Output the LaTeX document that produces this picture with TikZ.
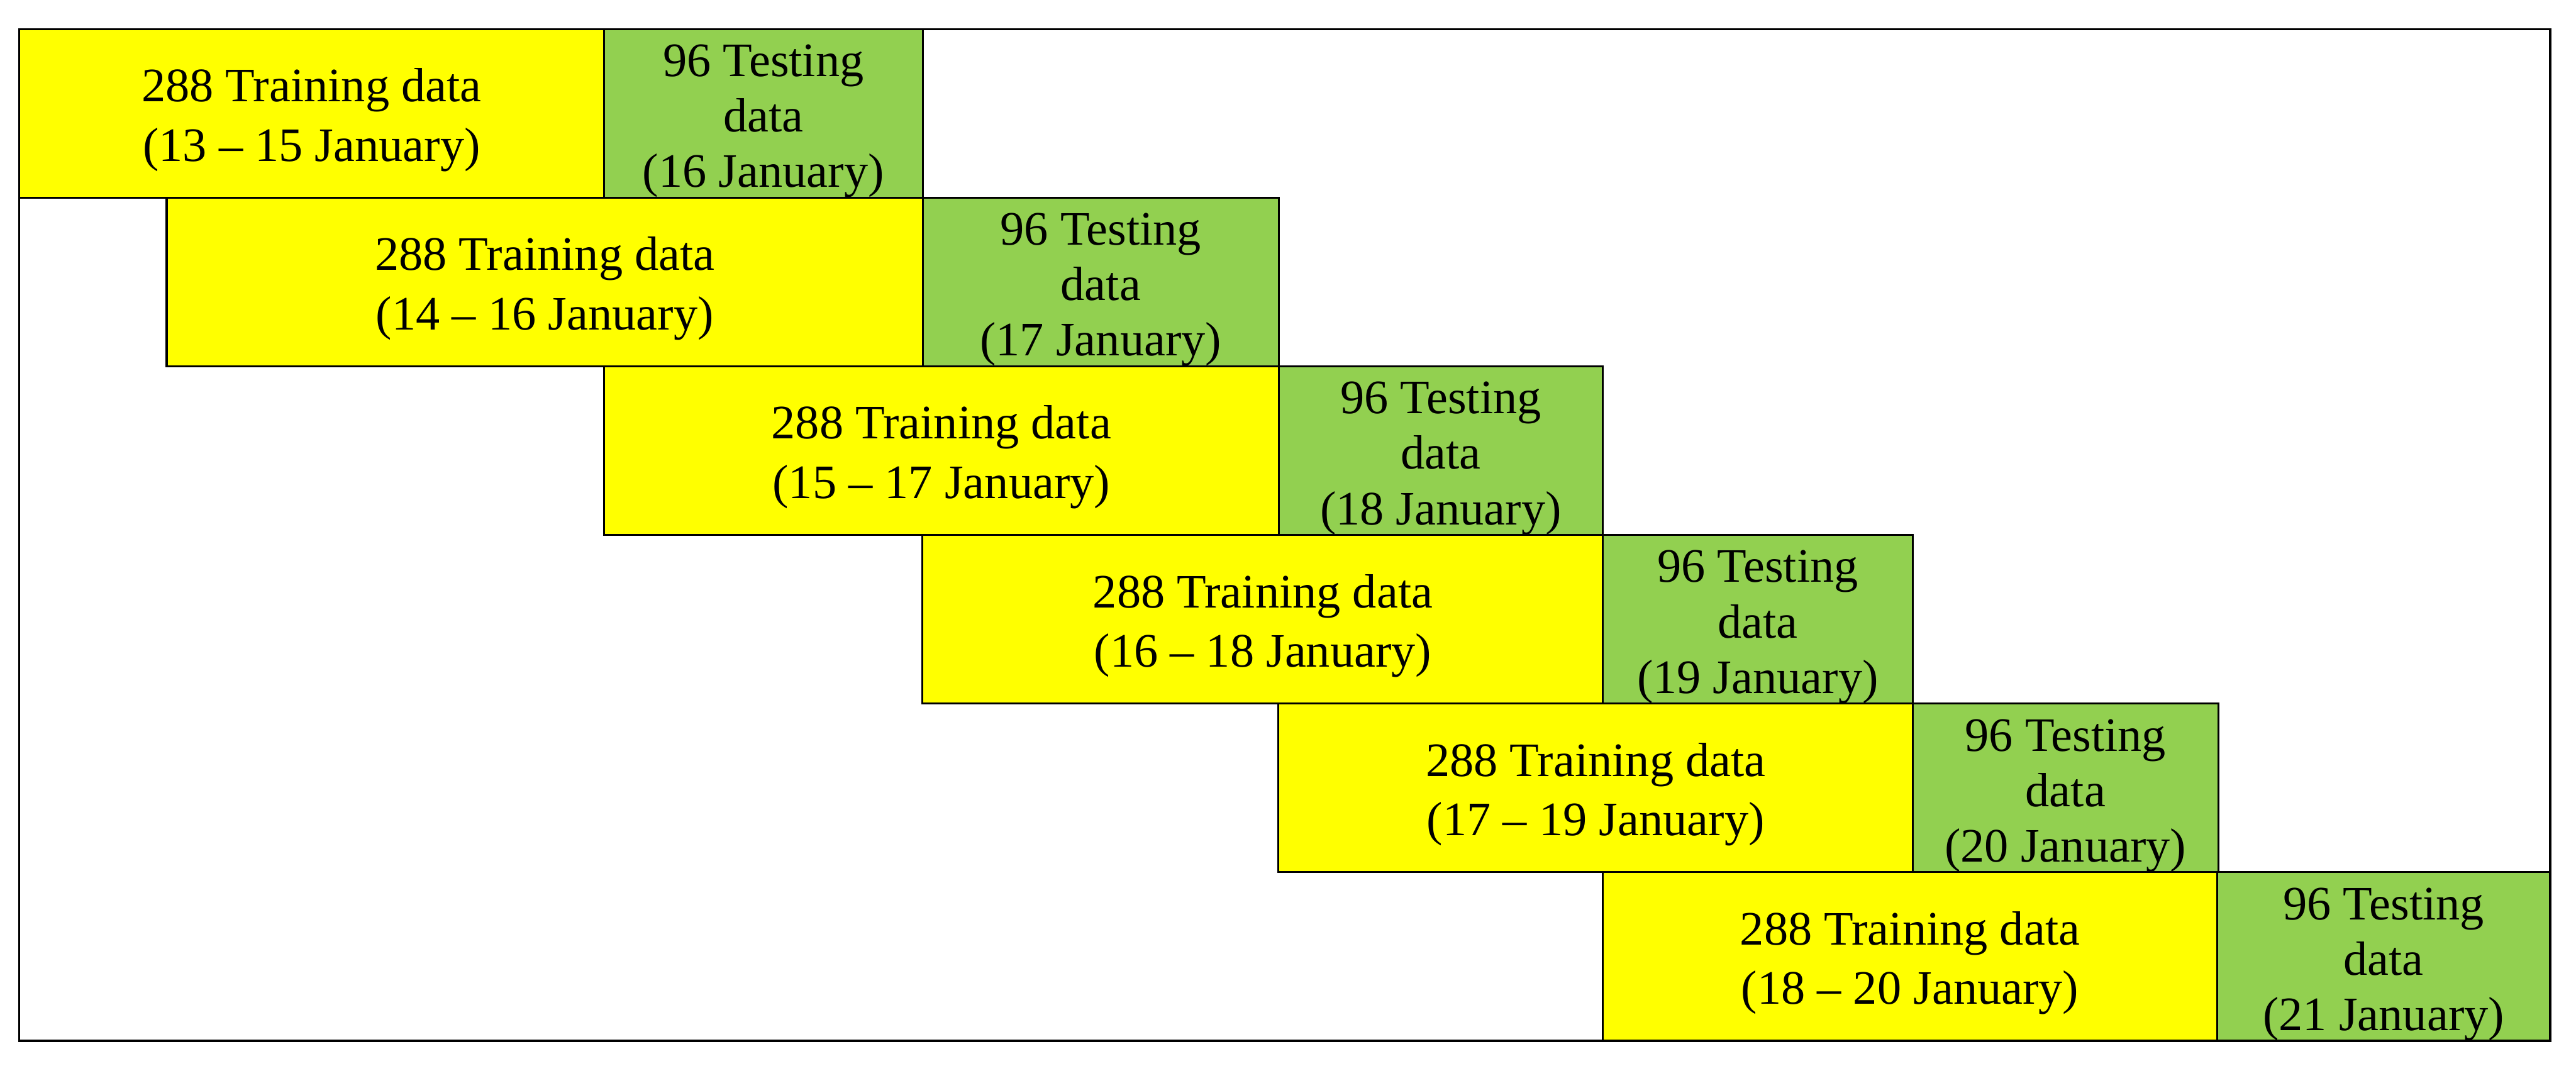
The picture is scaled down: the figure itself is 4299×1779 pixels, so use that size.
\documentclass[tikz,border=0pt]{standalone}
\usepackage{fontspec}
\setmainfont{Liberation Serif}
\definecolor{ylw}{HTML}{FFFF00}
\definecolor{grn}{HTML}{92D050}
\begin{document}
\begin{tikzpicture}[x=0.01cm,y=-0.01cm,
  cell/.style={draw=black,line width=0.9pt,inner sep=0pt,
    minimum height=2.814cm},
  train/.style={cell,fill=ylw,label={[trtext]center:#1}},
  test/.style={cell,fill=grn,label={[tetext]center:#1}},
  trtext/.style={align=center,inner sep=0pt,yshift=-0.11cm,
    font=\fontsize{22.8pt}{28.2pt}\selectfont},
  tetext/.style={align=center,inner sep=0pt,yshift=-0.13cm,
    font=\fontsize{22.8pt}{26.3pt}\selectfont},
  frame/.style={draw=black,line width=1pt}]
\useasboundingbox (0,0) rectangle (4299,1779);
\fill[white] (0,0) rectangle (4299,1779);
% row 1
\node[train={288 Training data\\(13 -- 15 January)},minimum width=9.76cm] (t1) at (520,189.2) {};
\node[test={96 Testing\\data\\(16 January)},minimum width=5.32cm] (s1) at (1274,189.2) {};
% row 2
\node[train={288 Training data\\(14 -- 16 January)},minimum width=12.615cm] (t2) at (909.25,470.6) {};
\node[test={96 Testing\\data\\(17 January)},minimum width=5.94cm] (s2) at (1837,470.6) {};
% row 3
\node[train={288 Training data\\(15 -- 17 January)},minimum width=11.26cm] (t3) at (1571,752) {};
\node[test={96 Testing\\data\\(18 January)},minimum width=5.41cm] (s3) at (2404.5,752) {};
% row 4
\node[train={288 Training data\\(16 -- 18 January)},minimum width=11.35cm] (t4) at (2107.5,1033.4) {};
\node[test={96 Testing\\data\\(19 January)},minimum width=5.17cm] (s4) at (2933.5,1033.4) {};
% row 5
\node[train={288 Training data\\(17 -- 19 January)},minimum width=10.58cm] (t5) at (2663,1314.8) {};
\node[test={96 Testing\\data\\(20 January)},minimum width=5.10cm] (s5) at (3447,1314.8) {};
% row 6
\node[train={288 Training data\\(18 -- 20 January)},minimum width=10.25cm] (t6) at (3187.5,1596.2) {};
\node[test={96 Testing\\data\\(21 January)},minimum width=5.56cm] (s6) at (3978,1596.2) {};
% outer frame
\draw[frame] (32,48.5) rectangle (4256,1737);
\end{tikzpicture}
\end{document}
